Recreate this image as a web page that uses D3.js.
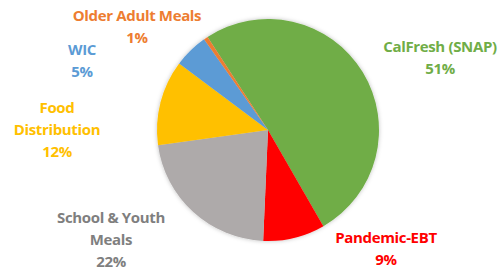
<!DOCTYPE html>
<html>
<head>
<meta charset="utf-8">
<script src="https://cdn.jsdelivr.net/npm/d3@7"></script>
<style>
  body { margin: 0; background: #fff; }
  text { font-family: "Open Sans", Lato, sans-serif; font-weight: bold; }
</style>
</head>
<body>
<div id="chart"></div>
<script>
// Plot constants
const WIDTH = 499;
const HEIGHT = 270;

// data (clockwise from the green slice)
const categories = ["CalFresh (SNAP)", "Pandemic-EBT", "School & Youth Meals", "Food Distribution", "WIC", "Older Adult Meals"];
const shares = [50.8, 9.0, 22.1, 12.4, 5.0, 0.6];
const sliceColors = ["#70AD47", "#FF0000", "#AEAAAA", "#FFC000", "#5B9BD5", "#ED7D31"];
const labelColors = ["#70AD47", "#FF0000", "#7F7F7F", "#FFC000", "#5B9BD5", "#ED7D31"];
// how each label wraps
const labelLines = [["CalFresh (SNAP)"], ["Pandemic-EBT"], ["School & Youth", "Meals"], ["Food", "Distribution"], ["WIC"], ["Older Adult Meals"]];
// label anchor (centre of first line)
const labelPos = [[440, 47], [386, 238], [111, 218], [57, 108], [82, 50], [137, 16]];

const cx = 268, cy = 130, R = 111;

const svg = d3.select("#chart").append("svg")
  .attr("width", WIDTH)
  .attr("height", HEIGHT);

// soft shadow round the pie
const filt = svg.append("defs").append("filter")
  .attr("id", "shadow")
  .attr("x", "-20%").attr("y", "-20%")
  .attr("width", "140%").attr("height", "140%");
filt.append("feDropShadow")
  .attr("dx", 0).attr("dy", 0)
  .attr("stdDeviation", 2)
  .attr("flood-color", "#000")
  .attr("flood-opacity", 0.25);

const pie = d3.pie()
  .sort(null)
  .startAngle(-33 * Math.PI / 180)
  .endAngle((360 - 33) * Math.PI / 180);

const arc = d3.arc().innerRadius(0).outerRadius(R);

const g = svg.append("g")
  .attr("transform", `translate(${cx},${cy})`)
  .attr("filter", "url(#shadow)");

g.selectAll("path")
  .data(pie(shares))
  .enter()
  .append("path")
  .attr("d", arc)
  .attr("fill", (d, i) => sliceColors[i]);

// labels
const total = d3.sum(shares);
const labels = svg.selectAll("text.lbl")
  .data(categories)
  .enter()
  .append("text")
  .attr("class", "lbl")
  .attr("text-anchor", "middle")
  .attr("font-size", "15px")
  .attr("letter-spacing", "-0.35px")
  .attr("fill", (d, i) => labelColors[i])
  .attr("x", (d, i) => labelPos[i][0])
  .attr("y", (d, i) => labelPos[i][1] + 5);

labels.each(function (d, i) {
  const lines = labelLines[i].concat([Math.round(shares[i] / total * 100) + "%"]);
  d3.select(this).selectAll("tspan")
    .data(lines)
    .enter()
    .append("tspan")
    .attr("x", labelPos[i][0])
    .attr("dy", (l, j) => j === 0 ? 0 : 22)
    .text(l => l);
});
</script>
</body>
</html>
